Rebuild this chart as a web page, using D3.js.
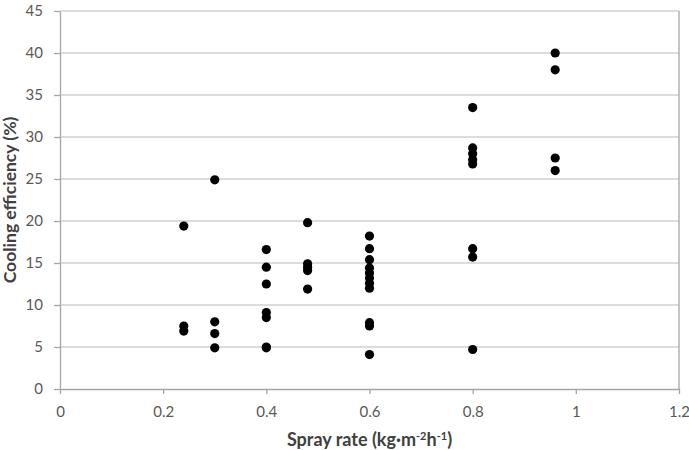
<!DOCTYPE html>
<html>
<head>
<meta charset="utf-8">
<script src="https://cdn.jsdelivr.net/npm/d3@7"></script>
<style>
  body { margin: 0; background: #fff; }
  text { font-family: Lato, "Open Sans", sans-serif; }
</style>
</head>
<body>
<div id="chart"></div>
<script>
// data
var sprayRates = [0.24, 0.24, 0.24,
    0.3, 0.3, 0.3, 0.3,
    0.4, 0.4, 0.4, 0.4, 0.4, 0.4, 0.4,
    0.48, 0.48, 0.48, 0.48, 0.48,
    0.6, 0.6, 0.6, 0.6, 0.6, 0.6, 0.6, 0.6, 0.6, 0.6, 0.6,
    0.8, 0.8, 0.8, 0.8, 0.8, 0.8, 0.8, 0.8,
    0.96, 0.96, 0.96, 0.96];
var efficiency = [19.4, 7.5, 6.9,
    24.9, 8.0, 6.6, 4.9,
    16.6, 14.5, 12.5, 9.1, 8.5, 5.0, 4.9,
    19.8, 14.9, 14.5, 14.1, 11.9,
    18.2, 16.7, 15.4, 14.4, 13.8, 13.2, 12.6, 12.0, 7.9, 7.5, 4.1,
    33.5, 28.7, 28.0, 27.3, 26.8, 16.7, 15.7, 4.7,
    40.0, 38.0, 27.5, 26.0];
var xTicks = [0, 0.2, 0.4, 0.6, 0.8, 1, 1.2];
var yTicks = [0, 5, 10, 15, 20, 25, 30, 35, 40, 45];

var svgWidth = 689;
var svgHeight = 450;
var margin = { top: 11, right: 10, bottom: 61, left: 60 };
var width = svgWidth - margin.left - margin.right;
var height = svgHeight - margin.top - margin.bottom;

var svg = d3.select('#chart').append('svg')
    .attr('width', svgWidth)
    .attr('height', svgHeight);

var chartGroup = svg.append('g')
    .attr('transform', `translate(${margin.left}, ${margin.top})`);

var x = d3.scaleLinear().domain([0, 1.2]).range([0, width]);
var y = d3.scaleLinear().domain([0, 45]).range([height, 0]);

// gridlines
chartGroup.selectAll('.grid')
    .data(yTicks.filter(d => d > 0))
    .enter()
    .append('line')
    .attr('x1', 0)
    .attr('x2', width)
    .attr('y1', d => y(d))
    .attr('y2', d => y(d))
    .attr('stroke', '#d0d0d0')
    .attr('stroke-width', 1.3);

// right border
chartGroup.append('line')
    .attr('x1', width).attr('x2', width)
    .attr('y1', 0).attr('y2', height)
    .attr('stroke', '#a6a6a6')
    .attr('stroke-width', 1.3);

// axes
var bottomAxis = d3.axisBottom(x).tickValues(xTicks).tickFormat(d3.format('')).tickSize(5).tickSizeOuter(0);
var leftAxis = d3.axisLeft(y).tickValues(yTicks).tickSize(6).tickSizeOuter(0);

var xAxis = chartGroup.append('g')
    .attr('transform', `translate(0, ${height})`)
    .call(bottomAxis);
var yAxis = chartGroup.append('g')
    .call(leftAxis);

[xAxis, yAxis].forEach(function(a) {
    a.selectAll('path, line').attr('stroke', '#a6a6a6').attr('stroke-width', 1.3);
    a.selectAll('text')
        .attr('fill', '#595959')
        .style('font-size', '15px');
});
xAxis.selectAll('text').attr('dy', '1.35em');
yAxis.selectAll('text').attr('x', -17);

// points
chartGroup.selectAll('circle')
    .data(sprayRates)
    .enter()
    .append('circle')
    .attr('cx', d => x(d))
    .attr('cy', (d, i) => y(efficiency[i]))
    .attr('r', 4.6)
    .attr('fill', '#000');

// axis titles
svg.append('text')
    .attr('x', margin.left + width / 2)
    .attr('y', 446)
    .attr('text-anchor', 'middle')
    .style('font-size', '18px')
    .style('font-weight', 'bold')
    .attr('fill', '#404040')
    .html('Spray rate (kg·m<tspan baseline-shift="super" font-size="11px">-2</tspan>h<tspan baseline-shift="super" font-size="11px">-1</tspan>)');

svg.append('text')
    .attr('transform', `translate(16, ${margin.top + height / 2}) rotate(-90)`)
    .attr('text-anchor', 'middle')
    .style('font-size', '17.5px')
    .style('font-weight', 'bold')
    .attr('fill', '#404040')
    .text('Cooling efficiency (%)');
</script>
</body>
</html>
